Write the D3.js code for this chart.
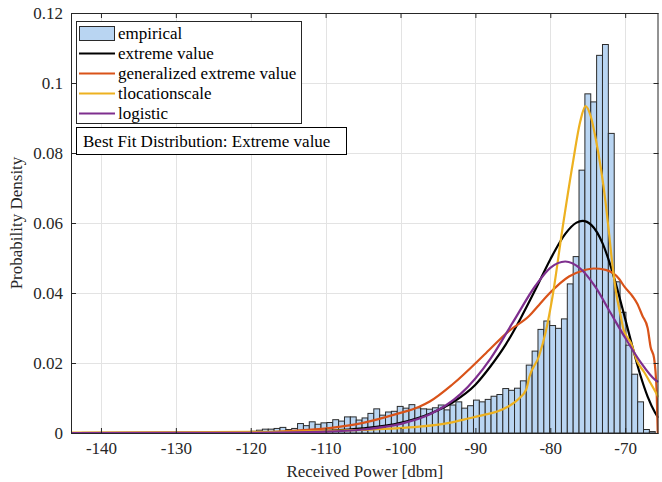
<!DOCTYPE html>
<html>
<head>
<meta charset="utf-8">
<script src="https://cdn.jsdelivr.net/npm/d3@7"></script>
<style>
  html, body { margin: 0; padding: 0; background: #fff; }
  svg { display: block; font-family: "Liberation Serif", "Times New Roman", serif; }
</style>
</head>
<body>
<svg id="chart" width="662" height="482"></svg>
<script>
// ---- axis ticks ----
const xDomain = [-144, -65.55];
const xTickValues = [-140, -130, -120, -110, -100, -90, -80, -70];
const xTickLabels = ["-140", "-130", "-120", "-110", "-100", "-90", "-80", "-70"];
const yTickValues = [0, 0.02, 0.04, 0.06, 0.08, 0.1, 0.12];
const yTickLabels = ["0", "0.02", "0.04", "0.06", "0.08", "0.1", "0.12"];

// ---- empirical histogram (density per bin) ----
const binStart = -143.5;
const binWidth = 0.783;
const density = [
  0.00003, 0, 0, 0, 0, 0, 0, 0, 0, 0, 0, 0, 0, 0, 0, 0, 0, 0, 0, 0, 0, 0, 0, 0,
  0.0001, 0.0002, 0.0001, 0.0002, 0.0003, 0.0003, 0.0005, 0.0008,
  0.0011, 0.0011, 0.0013, 0.0016, 0.0010, 0.0013, 0.0027, 0.0021, 0.0032, 0.0025,
  0.0029, 0.0030, 0.0038, 0.0034, 0.0046, 0.0046, 0.0037, 0.0043, 0.0056, 0.0069,
  0.0051, 0.0060, 0.0062, 0.0076, 0.0071, 0.0081, 0.0072, 0.0069, 0.0068, 0.0072,
  0.0080, 0.0066, 0.0080, 0.0089, 0.0071, 0.0078, 0.0094, 0.0089, 0.0096, 0.0105,
  0.0110, 0.0127, 0.0122, 0.0128, 0.0149, 0.0194, 0.0234, 0.0296, 0.0320, 0.0307,
  0.0299, 0.0326, 0.0426, 0.0504, 0.0751, 0.0969, 0.0946, 0.1079, 0.1110, 0.0856,
  0.0432, 0.0345, 0.0251, 0.0168, 0.0089, 0.0010, 0.0004
];

// ---- fitted densities, [power, density] ----
const extremeValue = [
  [-143.95, 0], [-130, 0.00002], [-120, 0.00011], [-115, 0.00025], [-110, 0.00058],
  [-105, 0.0013], [-100, 0.0029], [-96, 0.0056], [-93, 0.0088], [-90, 0.0138],
  [-88, 0.0190], [-86, 0.0251], [-84, 0.0326], [-82, 0.0409], [-80, 0.0496],
  [-78, 0.0569], [-76.5, 0.0601], [-75.7, 0.0606], [-74.5, 0.0594], [-73, 0.0541],
  [-72, 0.0481], [-71, 0.0407], [-70, 0.0326], [-69, 0.0244], [-68, 0.0167],
  [-67, 0.0104], [-66, 0.0058], [-65.55, 0.0043]
];
const genExtremeValue = [
  [-143.95, 0], [-132, 0.00002], [-124, 0.00006], [-118.4, 0.0002], [-113.9, 0.0007],
  [-109.5, 0.0014], [-105, 0.0029], [-100.6, 0.0054], [-97.5, 0.0075], [-96.1, 0.0090],
  [-93, 0.0140], [-88.6, 0.0228], [-85.5, 0.0292], [-82.8, 0.0335], [-81.5, 0.0366],
  [-80.1, 0.0399], [-77.5, 0.0447], [-75.5, 0.0465], [-74.2, 0.0470], [-72.6, 0.0466],
  [-70.8, 0.0440], [-70.1, 0.0418], [-69.0, 0.0390], [-68.4, 0.0370], [-67.7, 0.0335],
  [-67.0, 0.0300], [-66.6, 0.0245], [-66.15, 0.0215], [-65.8, 0.0120], [-65.65, 0]
];
const tLocationScale = [
  [-143.95, 0.0001], [-130, 0.0002], [-120, 0.0003], [-113.9, 0.0004], [-109.5, 0.0006],
  [-105, 0.0009], [-100.6, 0.0013], [-97.5, 0.0018], [-93.5, 0.0029], [-90.8, 0.0042],
  [-89, 0.0051], [-87, 0.0062], [-85.5, 0.0077], [-84.2, 0.0098], [-83.2, 0.0125],
  [-82.8, 0.0160], [-81.5, 0.0220], [-80.6, 0.0290], [-79.7, 0.0390], [-78.4, 0.0580],
  [-77.0, 0.0770], [-76.0, 0.0890], [-75.3, 0.0934], [-74.6, 0.0905], [-73.9, 0.0837],
  [-72.6, 0.0656], [-72.2, 0.0580], [-71.7, 0.0480], [-71.2, 0.0400], [-70.6, 0.0335],
  [-70.2, 0.0294], [-69.2, 0.0256], [-68.4, 0.0205], [-67.5, 0.0175], [-66.6, 0.0142],
  [-65.55, 0.0102]
];
const logistic = [
  [-143.95, 0], [-130, 0.00001], [-120, 0.00005], [-110, 0.00037], [-105, 0.0010],
  [-100, 0.0026], [-96, 0.0054], [-92, 0.0111], [-88, 0.0212], [-85, 0.0316],
  [-82, 0.0420], [-80, 0.0472], [-78, 0.0490], [-76, 0.0470], [-74, 0.0418],
  [-72, 0.0345], [-70, 0.0272], [-68, 0.0204], [-66, 0.0152], [-65.55, 0.0146]
];

const legendLabels = ["empirical", "extreme value", "generalized extreme value", "tlocationscale", "logistic"];
const seriesColors = ["#000000", "#d95319", "#edb120", "#7e2f8e"];
const bestFitText = "Best Fit Distribution: Extreme value";

// ---- layout ----
const svg = d3.select("#chart");
const plotLeft = 71, plotRight = 658.5, plotTop = 13, plotBottom = 433;
const axisColor = "#262626";
const fontSize = 17;

const x = d3.scaleLinear().domain(xDomain).range([plotLeft, plotRight]);
const y = d3.scaleLinear().domain([0, 0.12]).range([plotBottom, plotTop]);

svg.append("rect").attr("width", 662).attr("height", 482).attr("fill", "#fff");

svg.append("defs").append("clipPath").attr("id", "plotClip")
  .append("rect")
  .attr("x", plotLeft).attr("y", plotTop)
  .attr("width", plotRight - plotLeft).attr("height", plotBottom - plotTop);

// grid lines
const grid = svg.append("g").attr("stroke", "#e3e3e3").attr("stroke-width", 1);
grid.selectAll("line.gx").data(xTickValues).join("line")
  .attr("class", "gx")
  .attr("x1", d => Math.round(x(d)) + 0.5).attr("x2", d => Math.round(x(d)) + 0.5)
  .attr("y1", plotTop).attr("y2", plotBottom);
grid.selectAll("line.gy").data(yTickValues.slice(1, -1)).join("line")
  .attr("class", "gy")
  .attr("x1", plotLeft).attr("x2", plotRight)
  .attr("y1", d => Math.round(y(d)) + 0.5).attr("y2", d => Math.round(y(d)) + 0.5);

// histogram bars
const plot = svg.append("g").attr("clip-path", "url(#plotClip)");
plot.append("g").selectAll("rect").data(density).join("rect")
  .attr("x", (d, i) => x(binStart + i * binWidth))
  .attr("width", (d, i) => x(binStart + (i + 1) * binWidth) - x(binStart + i * binWidth))
  .attr("y", d => y(d))
  .attr("height", d => plotBottom - y(d))
  .attr("fill", "#b9d5f2")
  .attr("stroke", "#2b2b2b")
  .attr("stroke-width", 1);

// fitted curves
const line = d3.line()
  .x(d => x(d[0]))
  .y(d => y(d[1]))
  .curve(d3.curveMonotoneX);
[extremeValue, genExtremeValue, tLocationScale, logistic].forEach((s, i) => {
  plot.append("path")
    .datum(s)
    .attr("d", line)
    .attr("fill", "none")
    .attr("stroke", seriesColors[i])
    .attr("stroke-width", 2.2)
    .attr("stroke-linejoin", "round");
});

// axes (ticks point inward, box on all four sides)
function styleAxis(g) {
  g.select(".domain").remove();
  g.selectAll(".tick line").attr("stroke", axisColor);
  g.selectAll(".tick text")
    .attr("fill", axisColor)
    .style("font-family", "'Liberation Serif', 'Times New Roman', serif")
    .style("font-size", fontSize + "px");
}

svg.append("g")
  .attr("transform", `translate(0,${plotBottom})`)
  .call(d3.axisBottom(x).tickValues(xTickValues)
    .tickFormat((d, i) => xTickLabels[i])
    .tickSizeInner(-5).tickSizeOuter(0).tickPadding(9))
  .call(styleAxis);

svg.append("g")
  .attr("transform", `translate(0,${plotTop})`)
  .call(d3.axisTop(x).tickValues(xTickValues).tickFormat("")
    .tickSizeInner(-5).tickSizeOuter(0))
  .call(styleAxis);

svg.append("g")
  .attr("transform", `translate(${plotLeft},0)`)
  .call(d3.axisLeft(y).tickValues(yTickValues)
    .tickFormat((d, i) => yTickLabels[i])
    .tickSizeInner(-5).tickSizeOuter(0).tickPadding(8))
  .call(styleAxis);

svg.append("g")
  .attr("transform", `translate(${plotRight},0)`)
  .call(d3.axisRight(y).tickValues(yTickValues).tickFormat("")
    .tickSizeInner(-5).tickSizeOuter(0))
  .call(styleAxis);

// frame
svg.append("rect")
  .attr("x", plotLeft + 0.5).attr("y", plotTop + 0.5)
  .attr("width", plotRight - plotLeft - 1).attr("height", plotBottom - plotTop)
  .attr("fill", "none").attr("stroke", axisColor).attr("stroke-width", 1);

// axis titles
svg.append("text")
  .attr("x", (plotLeft + plotRight) / 2).attr("y", 477)
  .attr("text-anchor", "middle")
  .attr("fill", axisColor)
  .style("font-size", fontSize + "px")
  .text("Received Power [dbm]");

svg.append("text")
  .attr("transform", `translate(22,${(plotTop + plotBottom) / 2}) rotate(-90)`)
  .attr("text-anchor", "middle")
  .attr("fill", axisColor)
  .style("font-size", fontSize + "px")
  .text("Probability Density");

// legend
const legend = svg.append("g");
legend.append("rect")
  .attr("x", 76.5).attr("y", 21.5).attr("width", 225).attr("height", 102)
  .attr("fill", "#fff").attr("stroke", axisColor).attr("stroke-width", 1);

legendLabels.forEach((label, i) => {
  const cy = 33.5 + i * 20;
  if (i === 0) {
    legend.append("rect")
      .attr("x", 79.5).attr("y", cy - 7).attr("width", 35).attr("height", 14)
      .attr("fill", "#b9d5f2").attr("stroke", "#2b2b2b").attr("stroke-width", 1);
  } else {
    legend.append("line")
      .attr("x1", 79).attr("x2", 115).attr("y1", cy).attr("y2", cy)
      .attr("stroke", seriesColors[i - 1]).attr("stroke-width", 2.2);
  }
  legend.append("text")
    .attr("x", 118).attr("y", cy).attr("dy", "0.33em")
    .attr("fill", "#000")
    .style("font-size", fontSize + "px")
    .text(label);
});

// best-fit annotation
const note = svg.append("g");
note.append("rect")
  .attr("x", 76.5).attr("y", 127.5).attr("width", 270).attr("height", 27)
  .attr("fill", "#fff").attr("stroke", "#000").attr("stroke-width", 1);
note.append("text")
  .attr("x", 83).attr("y", 141).attr("dy", "0.33em")
  .attr("fill", "#000")
  .style("font-size", fontSize + "px")
  .text(bestFitText);
</script>
</body>
</html>
